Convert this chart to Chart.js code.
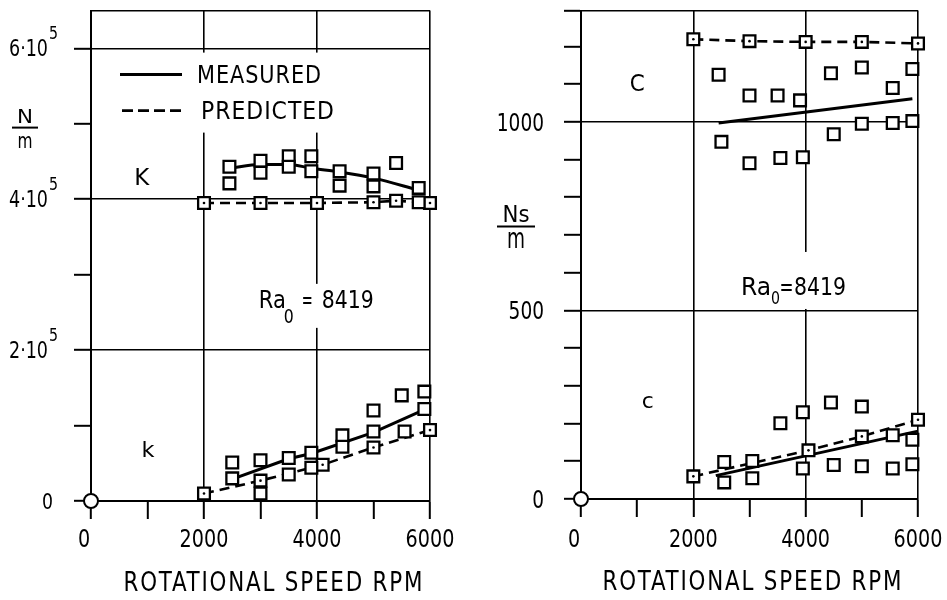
<!DOCTYPE html>
<html>
<head>
<meta charset="utf-8">
<title>Bearing coefficients vs rotational speed</title>
<script src="https://cdn.jsdelivr.net/npm/chart.js@4.4.0/dist/chart.umd.min.js"></script>
<style>
  html, body { margin: 0; padding: 0; background: #fff; }
  #wrap { position: relative; width: 947px; height: 600px; overflow: hidden; background: #fff; }
  canvas { position: absolute; top: 0; }
</style>
</head>
<body>
<div id="wrap">
  <canvas id="stiffness" width="470" height="600" style="left:0px"></canvas>
  <canvas id="damping" width="477" height="600" style="left:470px"></canvas>
</div>
<script>
const FONT = '"DejaVu Sans Condensed", "DejaVu Sans", sans-serif';

// ---- rotational speed axis (RPM) ----
const rpmTicks = [0, 1000, 2000, 3000, 4000, 5000, 6000];
const rpmLabels = [0, 2000, 4000, 6000];
const rpmGrid = [2000, 4000, 6000];

// ---- stiffness axis (N/m) ----
const stiffMax = 650000;
const stiffTicks = [0, 100000, 200000, 300000, 400000, 500000, 600000];
const stiffLabels = [0, 200000, 400000, 600000];
const stiffGrid = [200000, 400000, 600000];

// direct stiffness K
const K_measRpm = [2450, 2450, 3000, 3000, 3500, 3500, 3900, 3900, 4400, 4400, 5000, 5000, 5400, 5800, 5800];
const K_measVal = [443000, 421000, 451000, 435000, 457000, 443000, 457000, 437000, 437000, 418000, 434000, 417000, 448000, 415000, 396000];
const K_fitRpm = [2450, 3000, 3500, 3900, 4400, 5000, 5800];
const K_fitVal = [441000, 446000, 446000, 441000, 436000, 428000, 412000];
const K_predRpm = [2000, 3000, 4000, 5000, 5400, 6000];
const K_predVal = [395000, 395000, 395000, 396000, 398000, 395000];

// cross-coupled stiffness k
const k_measRpm = [2500, 2500, 3000, 3000, 3500, 3500, 3900, 3900, 4450, 4450, 5000, 5000, 5500, 5550, 5900, 5900];
const k_measVal = [51000, 30000, 54000, 10000, 57000, 35000, 64000, 44000, 87000, 72000, 120000, 92000, 140000, 92000, 145000, 122000];
const k_fitRpm = [2500, 3500, 3900, 5000, 5900];
const k_fitVal = [29000, 56000, 63000, 91000, 121000];
const k_predRpm = [2000, 3000, 4100, 5000, 6000];
const k_predVal = [10000, 27000, 48000, 71000, 94000];

// ---- damping axis (Ns/m) ----
const dampMax = 1295;
const dampTicks = [0, 100, 200, 300, 400, 500, 600, 700, 800, 900, 1000, 1100, 1200];
const dampLabels = [0, 500, 1000];
const dampGrid = [500, 1000];

// direct damping C
const C_measRpm = [2450, 2500, 3000, 3000, 3500, 3550, 3900, 3950, 4450, 4500, 5000, 5000, 5550, 5550, 5900, 5900];
const C_measVal = [1125, 947, 1070, 890, 1070, 904, 1057, 906, 1129, 967, 1144, 995, 1090, 997, 1140, 1002];
const C_fitRpm = [2450, 5900];
const C_fitVal = [997, 1061];
const C_predRpm = [2000, 3000, 4000, 5000, 6000];
const C_predVal = [1219, 1214, 1212, 1212, 1208];

// cross-coupled damping c
const c_measRpm = [2550, 2550, 3050, 3050, 3550, 3950, 3950, 4450, 4500, 5000, 5000, 5550, 5550, 5900, 5900];
const c_measVal = [98, 44, 101, 55, 201, 230, 81, 256, 90, 245, 87, 169, 81, 157, 92];
const c_fitRpm = [2400, 6000];
const c_fitVal = [62, 180];
const c_predRpm = [2000, 4050, 5000, 6000];
const c_predVal = [60, 129, 166, 210];

const origin = [{ x: 0, y: 0 }];

// ---------- dataset builders ----------
function xy(xs, ys) { return xs.map((x, i) => ({ x: x, y: ys[i] })); }

const SQUARE = {
  pointStyle: 'rect', pointRadius: 8.3, pointHoverRadius: 8.3,
  pointBackgroundColor: '#fff', pointBorderColor: '#000', pointBorderWidth: 2.3
};
function measuredMarks(xs, ys) {
  return Object.assign({ data: xy(xs, ys), showLine: false, clip: false, order: 1 }, SQUARE);
}
function predictedMarks(xs, ys) {
  return Object.assign({
    data: xy(xs, ys), showLine: true, borderColor: '#000', borderWidth: 2.6,
    borderDash: [10, 6], clip: false, order: 2
  }, SQUARE);
}
function predictedDots(xs, ys) {
  return {
    data: xy(xs, ys), showLine: false, pointStyle: 'circle', pointRadius: 1.3,
    pointHoverRadius: 1.3, pointBackgroundColor: '#000', pointBorderWidth: 0, clip: false, order: 0
  };
}
function measuredFit(xs, ys, curved) {
  return {
    data: xy(xs, ys), showLine: true, borderColor: '#000', borderWidth: 3, pointRadius: 0,
    tension: curved ? 0.4 : 0, cubicInterpolationMode: curved ? 'monotone' : 'default',
    clip: false, order: 3
  };
}
function originMark() {
  return {
    data: origin, showLine: false, pointStyle: 'circle', pointRadius: 7, pointHoverRadius: 7,
    pointBackgroundColor: '#fff', pointBorderColor: '#000', pointBorderWidth: 2, clip: false, order: 0
  };
}

// ---------- text helpers ----------
// draws s with its advance squeezed/stretched to width w (narrow lettering)
function txt(ctx, s, x, y, size, align, w, spacing) {
  ctx.save();
  ctx.font = size + 'px ' + FONT;
  ctx.textBaseline = 'alphabetic';
  ctx.textAlign = 'left';
  ctx.letterSpacing = (spacing || 0) + 'px';
  const natural = ctx.measureText(s).width - (spacing || 0);
  const width = w || natural;
  const left = align === 'center' ? x - width / 2 : (align === 'right' ? x - width : x);
  ctx.translate(left, y);
  ctx.scale(width / natural, 1);
  ctx.fillText(s, 0, 0);
  ctx.restore();
}
function hline(ctx, x1, x2, y, lw, dash) {
  ctx.beginPath();
  ctx.setLineDash(dash || []);
  ctx.lineWidth = lw;
  ctx.moveTo(x1, y); ctx.lineTo(x2, y);
  ctx.stroke();
  ctx.setLineDash([]);
}

const panelText = {
  id: 'panelText',
  beforeDatasetsDraw(chart, args, o) {
    const ctx = chart.ctx, a = chart.chartArea, sx = chart.scales.x, sy = chart.scales.y;
    ctx.save();
    ctx.fillStyle = '#000';
    ctx.strokeStyle = '#000';

    // legend
    if (o.legend) {
      const L = o.legend;
      ctx.fillStyle = '#fff';
      ctx.fillRect(a.left + L.patch[0], a.top + L.patch[1], L.patch[2], L.patch[3]);
      ctx.fillStyle = '#000';
      hline(ctx, a.left + L.solid[0], a.left + L.solid[1], a.top + L.solid[2], 3);
      hline(ctx, a.left + L.dash[0], a.left + L.dash[1], a.top + L.dash[2], 2.6, [11, 5]);
      txt(ctx, 'MEASURED', a.left + L.text1[0], a.top + L.text1[1], 25, 'left', 124, 1);
      txt(ctx, 'PREDICTED', a.left + L.text2[0], a.top + L.text2[1], 25, 'left', 133, 1);
    }

    // Ra_0 note
    if (o.ra) {
      const R = o.ra;
      const x0 = sx.getPixelForValue(R.x), y0 = sy.getPixelForValue(R.y);
      ctx.fillStyle = '#fff';
      ctx.fillRect(x0 + R.patch[0], y0 + R.patch[1], R.patch[2] - R.patch[0], R.patch[3] - R.patch[1]);
      ctx.fillStyle = '#000';
      R.parts.forEach(q => txt(ctx, q.s, x0 + q.dx, y0 + (q.dy || 0), q.size, 'left', q.w));
    }

    // coefficient letters
    (o.letters || []).forEach(l => {
      txt(ctx, l.s, sx.getPixelForValue(l.x), sy.getPixelForValue(l.y), l.size, 'center', l.w);
    });

    // x tick labels
    rpmLabels.forEach(v => {
      const s = String(v);
      const px = sx.getPixelForValue(v) + (v === 0 ? o.xZeroDx : 0);
      txt(ctx, s, px, o.xLabelY, 25, 'center', 12.2 * s.length);
    });

    // y tick labels
    const Y = o.yLabels;
    Y.values.forEach(v => {
      const py = sy.getPixelForValue(v);
      if (Y.sci && v !== 0) {
        const exp = Math.floor(Math.log10(v));
        const man = Math.round(v / Math.pow(10, exp));
        txt(ctx, man + '\u00b710', a.left + Y.sciRight, py + 8, 23, 'right', 39);
        txt(ctx, String(exp), a.left + Y.sciRight + 1, py - 9, 17, 'left', 9);
      } else {
        const s = String(v);
        txt(ctx, s, a.left + Y.right, py + Y.dy, Y.size, 'right', Y.charW * s.length);
      }
    });

    // unit fraction
    const U = o.unit;
    const cx = a.left + U.cx, by = a.top + U.barY;
    txt(ctx, U.num, cx, by + U.numDy, U.numSize, 'center', U.numW);
    hline(ctx, cx - U.half, cx + U.half, by, 2);
    txt(ctx, U.den, cx, by + U.denDy, U.denSize, 'center', U.denW);

    // x axis title
    txt(ctx, 'ROTATIONAL SPEED RPM', (a.left + a.right) / 2 + o.title.dx, o.title.y, 26, 'center', 299, 2);

    ctx.restore();
  }
};

function makePanel(id, p) {
  const clear = 'rgba(0,0,0,0)';
  return new Chart(document.getElementById(id), {
    type: 'scatter',
    data: { datasets: p.datasets },
    options: {
      responsive: false,
      animation: false,
      events: [],
      layout: { padding: p.padding },
      plugins: { legend: { display: false }, tooltip: { enabled: false }, panelText: p.text },
      scales: {
        x: {
          type: 'linear', min: 0, max: 6000,
          afterBuildTicks: s => { s.ticks = rpmTicks.map(v => ({ value: v })); },
          afterFit: s => { s.height = p.xHeight; },
          border: { display: true, color: '#000', width: 2 },
          grid: {
            color: c => (c.tick && rpmGrid.includes(c.tick.value)) ? '#000' : clear,
            lineWidth: 1.6, tickColor: '#000', tickWidth: 2, tickLength: 18
          },
          ticks: { display: false }
        },
        y: {
          type: 'linear', min: 0, max: p.yMax,
          afterBuildTicks: s => { s.ticks = p.yTicks.concat([p.yMax]).map(v => ({ value: v })); },
          afterFit: s => { s.width = p.yWidth; },
          border: { display: true, color: '#000', width: 2 },
          grid: {
            color: c => (c.tick && (p.yGrid.includes(c.tick.value) || c.tick.value === p.yMax)) ? '#000' : clear,
            tickColor: c => (c.tick && c.tick.value === p.yMax && !p.topTick) ? clear : '#000',
            lineWidth: 1.6, tickWidth: 2, tickLength: 17
          },
          ticks: { display: false }
        }
      }
    },
    plugins: [panelText]
  });
}

// ---------- stiffness panel ----------
makePanel('stiffness', {
  padding: { left: 0, right: 40, top: 10, bottom: 0 },
  xHeight: 99, yWidth: 91,
  yMax: stiffMax, yTicks: stiffTicks, yGrid: stiffGrid, topTick: false,
  datasets: [
    originMark(),
    predictedDots(K_predRpm, K_predVal),
    predictedDots(k_predRpm, k_predVal),
    measuredMarks(K_measRpm, K_measVal),
    measuredMarks(k_measRpm, k_measVal),
    predictedMarks(K_predRpm, K_predVal),
    predictedMarks(k_predRpm, k_predVal),
    measuredFit(K_fitRpm, K_fitVal, true),
    measuredFit(k_fitRpm, k_fitVal, false)
  ],
  text: {
    legend: {
      patch: [17, 42, 230, 80],
      solid: [29, 91, 64], dash: [31, 91, 100],
      text1: [106, 72], text2: [110, 108]
    },
    ra: {
      x: 2970, y: 256000, patch: [-4, -24, 119, 20],
      parts: [
        { s: 'Ra', dx: 0, size: 25, w: 27 },
        { s: '0', dx: 25, dy: 15, size: 20, w: 10 },
        { s: '=', dx: 43, size: 25, w: 11 },
        { s: '8419', dx: 63, size: 25, w: 52 }
      ]
    },
    letters: [
      { s: 'K', x: 900, y: 419000, size: 23, w: 15 },
      { s: 'k', x: 1010, y: 58000, size: 21, w: 13 }
    ],
    xLabelY: 547, xZeroDx: -7,
    yLabels: { values: stiffLabels, sci: true, sciRight: -43, right: -38, dy: 8, size: 21, charW: 11 },
    unit: { num: 'N', den: 'm', cx: -66, barY: 117, half: 13, numDy: -5, denDy: 20, numSize: 19, denSize: 22, numW: 16, denW: 15 },
    title: { dx: 12.5, y: 591 }
  }
});

// ---------- damping panel ----------
makePanel('damping', {
  padding: { left: 0, right: 29, top: 6, bottom: 0 },
  xHeight: 101, yWidth: 111,
  yMax: dampMax, yTicks: dampTicks, yGrid: dampGrid, topTick: true,
  datasets: [
    originMark(),
    predictedDots(C_predRpm, C_predVal),
    predictedDots(c_predRpm, c_predVal),
    measuredMarks(C_measRpm, C_measVal),
    measuredMarks(c_measRpm, c_measVal),
    predictedMarks(C_predRpm, C_predVal),
    predictedMarks(c_predRpm, c_predVal),
    measuredFit(C_fitRpm, C_fitVal, false),
    measuredFit(c_fitRpm, c_fitVal, false)
  ],
  text: {
    ra: {
      x: 2850, y: 541, patch: [-4, -43, 109, 14],
      parts: [
        { s: 'Ra', dx: 0, size: 25, w: 30 },
        { s: '0', dx: 30, dy: 9, size: 17, w: 9 },
        { s: '=', dx: 38.5, size: 25, w: 14 },
        { s: '8419', dx: 53, size: 25, w: 52 }
      ]
    },
    letters: [
      { s: 'C', x: 1000, y: 1082, size: 23, w: 15 },
      { s: 'c', x: 1190, y: 242, size: 22, w: 12 }
    ],
    xLabelY: 547, xZeroDx: -7,
    yLabels: { values: dampLabels, sci: false, right: -37, dy: 9, size: 25, charW: 11.8 },
    unit: { num: 'Ns', den: 'm', cx: -65, barY: 216, half: 19, numDy: -5, denDy: 21, numSize: 23, denSize: 29, numW: 27, denW: 18 },
    title: { dx: 2.5, y: 590 }
  }
});
</script>
</body>
</html>
